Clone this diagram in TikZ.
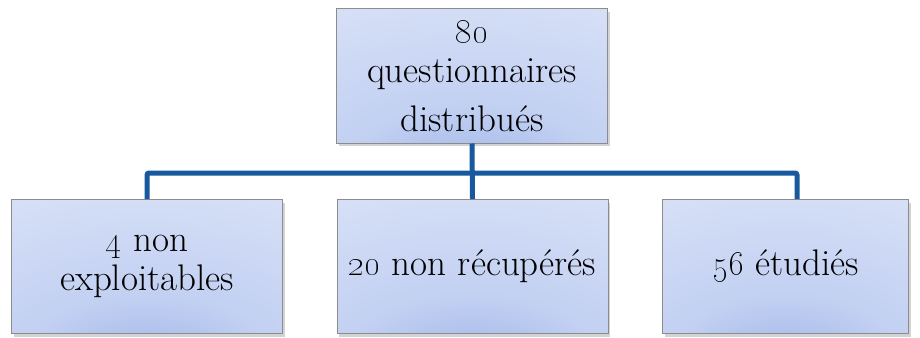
\documentclass[tikz,border=0pt]{standalone}
\usetikzlibrary{shadows}

\definecolor{LinkBlue}{RGB}{24,88,158}
\definecolor{BoxLight}{RGB}{220,228,247}
\definecolor{BoxMid}{RGB}{194,208,242}
\definecolor{BoxDeep}{RGB}{155,178,231}
\definecolor{BoxLine}{RGB}{140,140,140}

\pgfdeclareradialshading{BoxGlow}{\pgfpoint{0bp}{-42bp}}{%
  color(0bp)=(BoxDeep); color(22bp)=(BoxMid); color(60bp)=(BoxLight); color(100bp)=(BoxLight)}

\begin{document}
\begin{tikzpicture}[x=1pt,y=-1pt]
        \tikzstyle{every node}=[font=\fontsize{37}{39}\selectfont]
        \tikzstyle{StageBox}=[draw=BoxLine, line width=1pt, shading=BoxGlow,
            minimum width=271pt, minimum height=134pt, align=center, inner sep=0pt,
            drop shadow={opacity=0.35, shadow xshift=2pt, shadow yshift=-3pt}]
        \tikzstyle{Link}=[draw=LinkBlue, line width=5pt, rounded corners=2pt]
        \useasboundingbox (0,0) rectangle (920,337);

        \node[StageBox] (Total) at (472,76) {};
        \node[align=center, inner sep=0pt] (TotalText) at (472,76) {\oldstylenums{80}\\questionnaires\\[10pt]distribués};
        \node[StageBox] (Unusable) at (147,266.5) {\oldstylenums{4} non\\exploitables};
        \node[StageBox] (Lost) at (472.5,266.5) {\oldstylenums{20} non récupérés};
        \node[StageBox, minimum width=246pt] (Studied) at (785.5,266.5) {\oldstylenums{56} étudiés};

        \coordinate (Bar) at (472,173);
        \draw[Link] (Total.south) -- (Lost.north);
        \draw[Link] (Unusable.north) |- (Bar) -| ([xshift=11.5pt]Studied.north);
\end{tikzpicture}
\end{document}
